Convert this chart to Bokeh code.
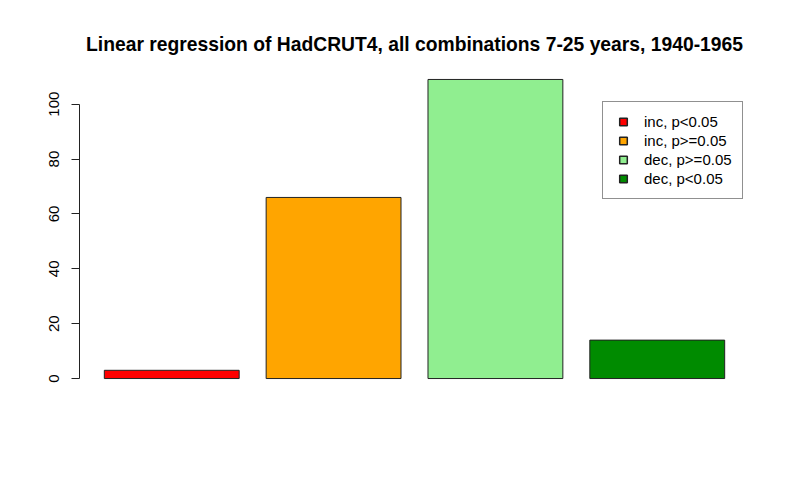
from bokeh.plotting import figure
from bokeh.models import Range1d, FixedTicker, Legend, LegendItem, ColumnDataSource
from bokeh.embed import file_html
from bokeh.resources import INLINE

# data
categories = ["inc, p<0.05", "inc, p>=0.05", "dec, p>=0.05", "dec, p<0.05"]
counts = [3, 66, 109, 14]
colors = ["#FF0000", "#FFA500", "#90EE90", "#008B00"]
y_ticks = [0, 20, 40, 60, 80, 100]
title_text = "Linear regression of HadCRUT4, all combinations 7-25 years, 1940-1965"

# R barplot layout: width 1, space 0.2
n = len(counts)
centers = [0.7 + 1.2 * i for i in range(n)]
xlo, xhi = 0.2, 1.2 * n
xpad = 0.04 * (xhi - xlo)
ymax = max(counts)
ypad = 0.04 * ymax

p = figure(frame_width=670, frame_height=323, output_backend="svg", toolbar_location=None,
           x_range=Range1d(xlo - xpad, xhi + xpad),
           y_range=Range1d(-ypad, ymax + ypad),
           x_axis_location=None,
           min_border_left=79, min_border_right=40,
           min_border_top=67, min_border_bottom=89)
p.outline_line_color = None
p.grid.visible = False
p.background_fill_color = "white"
p.border_fill_color = "white"

src = ColumnDataSource(dict(x=centers, top=counts, color=colors, cat=categories))
p.vbar(x="x", top="top", bottom=0, width=1.0, source=src, fill_color="color",
       line_color="#222222", line_width=1)

ax = p.yaxis[0]
ax.ticker = FixedTicker(ticks=y_ticks)
ax.bounds = (0, 100)
ax.minor_tick_line_color = None
ax.major_tick_in = 0
ax.major_tick_out = 8
ax.major_label_orientation = "vertical"
ax.major_label_text_font = "Liberation Sans"
ax.major_label_text_font_size = "15px"
ax.major_label_text_color = "black"
ax.major_label_standoff = 12
ax.axis_line_color = "#222222"
ax.major_tick_line_color = "#222222"

p.title.text = title_text
p.title.align = "center"
p.title.text_font = "Liberation Sans"
p.title.text_font_style = "bold"
p.title.text_font_size = "19.3px"
p.title.text_color = "black"
p.title.standoff = 25

items = []
for c, lab in zip(colors, categories):
    s = ColumnDataSource(dict(x=[float("nan")], y=[float("nan")]))
    r = p.scatter(x="x", y="y", source=s, marker="square", size=10,
                  fill_color=c, line_color="#222222", line_width=1.5)
    items.append(LegendItem(label=lab, renderers=[r]))

legend = Legend(items=items, location=(523, 191), padding=10, spacing=0,
                glyph_width=20, glyph_height=19, label_height=19,
                label_width=88, label_standoff=11, margin=0,
                label_text_font="Liberation Sans", label_text_font_size="15px",
                label_text_color="black",
                border_line_color="#222222", border_line_width=1,
                background_fill_color="white", background_fill_alpha=1.0)
p.add_layout(legend, "center")

open("out.html", "w").write(file_html(p, INLINE))
